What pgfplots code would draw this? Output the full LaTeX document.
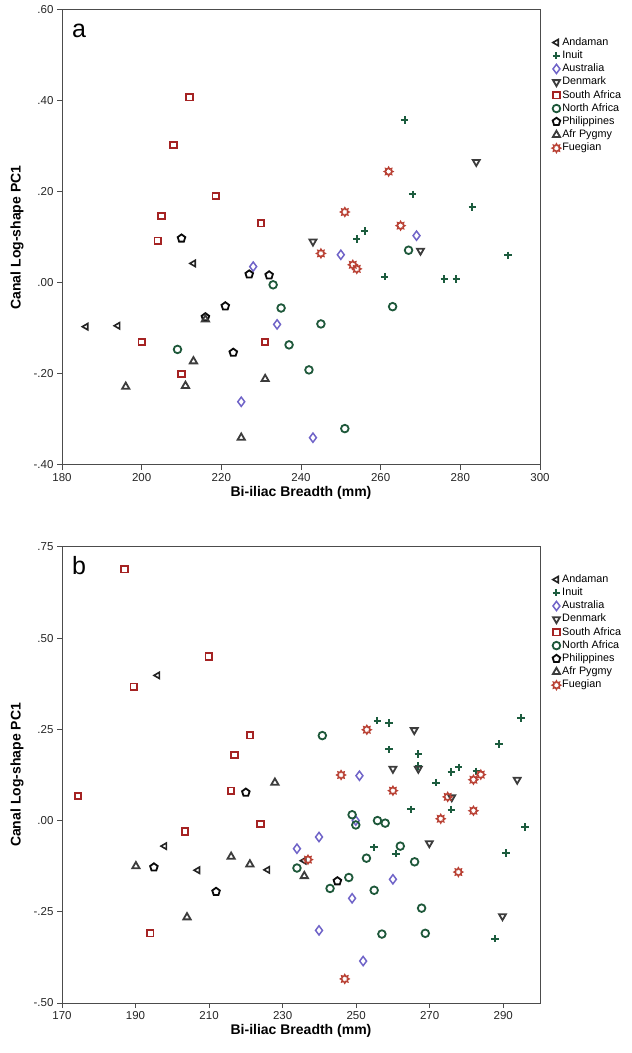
\documentclass[border=0pt]{standalone}
\usepackage{pgfplots}
\pgfplotsset{compat=1.18}
\usepackage{fontspec}
\setmainfont{Liberation Sans}
\definecolor{cAnd}{RGB}{35,35,35}
\definecolor{cInu}{RGB}{28,92,62}
\definecolor{cAus}{RGB}{112,100,200}
\definecolor{cDen}{RGB}{60,60,60}
\definecolor{cSA}{RGB}{165,35,35}
\definecolor{cNA}{RGB}{30,88,58}
\definecolor{cPhi}{RGB}{10,10,10}
\definecolor{cPyg}{RGB}{60,60,60}
\definecolor{cFue}{RGB}{185,65,52}
\pgfdeclareplotmark{sunstar}{%
  \pgfpathmoveto{\pgfpointpolar{90}{\pgfplotmarksize}}%
  \pgfpathlineto{\pgfpointpolar{112.5}{0.62\pgfplotmarksize}}%
  \pgfpathlineto{\pgfpointpolar{135}{\pgfplotmarksize}}%
  \pgfpathlineto{\pgfpointpolar{157.5}{0.62\pgfplotmarksize}}%
  \pgfpathlineto{\pgfpointpolar{180}{\pgfplotmarksize}}%
  \pgfpathlineto{\pgfpointpolar{202.5}{0.62\pgfplotmarksize}}%
  \pgfpathlineto{\pgfpointpolar{225}{\pgfplotmarksize}}%
  \pgfpathlineto{\pgfpointpolar{247.5}{0.62\pgfplotmarksize}}%
  \pgfpathlineto{\pgfpointpolar{270}{\pgfplotmarksize}}%
  \pgfpathlineto{\pgfpointpolar{292.5}{0.62\pgfplotmarksize}}%
  \pgfpathlineto{\pgfpointpolar{315}{\pgfplotmarksize}}%
  \pgfpathlineto{\pgfpointpolar{337.5}{0.62\pgfplotmarksize}}%
  \pgfpathlineto{\pgfpointpolar{0}{\pgfplotmarksize}}%
  \pgfpathlineto{\pgfpointpolar{22.5}{0.62\pgfplotmarksize}}%
  \pgfpathlineto{\pgfpointpolar{45}{\pgfplotmarksize}}%
  \pgfpathlineto{\pgfpointpolar{67.5}{0.62\pgfplotmarksize}}%
  \pgfpathclose
  \pgfusepathqstroke
}
\pgfplotsset{
  myaxis/.style={
    width=478pt, height=455pt, scale only axis,
    axis line style={color=black!70, line width=1pt},
    tick style={color=black!70, line width=1pt},
    major tick length=5pt, tick align=outside,
    xtick pos=bottom, ytick pos=left,
    minor tick num=0,
    ticklabel style={font=\fontsize{11.5}{13}\selectfont, text=black!85},
    every axis x label/.style={at={(axis description cs:0.5,-0.062)}, anchor=center, font=\bfseries\fontsize{14}{16}\selectfont},
    every axis y label/.style={at={(axis description cs:-0.094,0.5)}, rotate=90, anchor=center, font=\bfseries\fontsize{14}{16}\selectfont},
    xlabel={Bi-iliac Breadth (mm)},
    ylabel={Canal Log-shape PC1},
    legend style={draw=none, fill=none, font=\fontsize{10.8}{12}\selectfont,
      at={(1.025,0.9434)}, anchor=north west, inner sep=0pt,
      nodes={inner xsep=1.5pt, inner ysep=1.35pt, text height=8pt, text depth=2.5pt}},
    legend cell align=left,
    legend image code/.code={\draw[mark repeat=2,mark phase=2,#1] plot coordinates {(0pt,0pt) (5pt,0pt) (16pt,0pt)};},
    clip=false,
  },
  sAnd/.style={only marks, color=cAnd, mark=triangle, mark size=3.6pt, mark options={rotate=90, line width=1.6pt}},
  sInu/.style={only marks, color=cInu, mark=+, mark size=3.7pt, mark options={line width=2pt}},
  sAus/.style={only marks, color=cAus, mark=diamond, mark size=4.6pt, mark options={line width=1.5pt}},
  sDen/.style={only marks, color=cDen, mark=triangle, mark size=4pt, mark options={rotate=180, line width=1.8pt}},
  sSA/.style={only marks, color=cSA, mark=square, mark size=3.2pt, mark options={line width=1.8pt}},
  sNA/.style={only marks, color=cNA, mark=o, mark size=3.8pt, mark options={line width=1.8pt}},
  sPhi/.style={only marks, color=cPhi, mark=pentagon, mark size=4pt, mark options={line width=1.8pt}},
  sPyg/.style={only marks, color=cPyg, mark=triangle, mark size=4.2pt, mark options={line width=1.8pt}},
  sFue/.style={only marks, color=cFue, mark=sunstar, mark size=4.3pt, mark options={line width=1.4pt}},
}
\begin{document}
\begin{tikzpicture}
\path[use as bounding box] (0pt,0pt) rectangle (632pt,1053pt);
% ---------------- panel a ----------------
\begin{axis}[myaxis, at={(62pt,588pt)}, anchor=south west,
  xmin=180, xmax=300, ymin=-0.4, ymax=0.6,
  xtick={180,200,220,240,260,280,300},
  xticklabels={180,200,220,240,260,280,300},
  ytick={-0.4,-0.2,0,0.2,0.4,0.6},
  yticklabels={-.40,-.20,.00,.20,.40,.60}]
\addplot[sAnd] coordinates {(186,-0.096) (194,-0.094) (213,0.043)};
\addlegendentry{Andaman}
\addplot[sInu] coordinates {(266,0.358) (268,0.195) (283,0.167) (256,0.114) (254,0.097) (292,0.061) (261,0.014) (276,0.009) (279,0.009)};
\addlegendentry{Inuit}
\addplot[sAus] coordinates {(228,0.036) (234,-0.091) (225,-0.261) (250,0.062) (269,0.104) (243,-0.340)};
\addlegendentry{Australia}
\addplot[sDen] coordinates {(284,0.266) (243,0.091) (270,0.071)};
\addlegendentry{Denmark}
\addplot[sSA] coordinates {(212,0.408) (208,0.303) (218.6,0.191) (205,0.147) (230,0.131) (204,0.093) (200,-0.130) (231,-0.130) (210,-0.200)};
\addlegendentry{South Africa}
\addplot[sNA] coordinates {(233,-0.004) (235,-0.055) (237,-0.136) (209,-0.146) (267,0.072) (263,-0.052) (245,-0.090) (242,-0.191) (251,-0.320)};
\addlegendentry{North Africa}
\addplot[sPhi] coordinates {(210,0.098) (227,0.019) (232,0.017) (221,-0.051) (216,-0.075) (223,-0.153)};
\addlegendentry{Philippines}
\addplot[sPyg] coordinates {(216,-0.080) (213,-0.172) (231,-0.211) (196,-0.228) (211,-0.226) (225,-0.340)};
\addlegendentry{Afr Pygmy}
\addplot[sFue] coordinates {(262,0.245) (251,0.156) (265,0.126) (245,0.065) (253,0.040) (254,0.031)};
\addlegendentry{Fuegian}
\end{axis}
\node[anchor=base west, font=\fontsize{25}{28}\selectfont, inner sep=0pt] at (72pt,1015pt) {a};
% ---------------- panel b ----------------
\begin{axis}[myaxis, at={(62pt,50pt)}, anchor=south west, height=456pt,
  xmin=170, xmax=300, ymin=-0.5, ymax=0.75,
  xtick={170,190,210,230,250,270,290},
  xticklabels={170,190,210,230,250,270,290},
  ytick={-0.5,-0.25,0,0.25,0.5,0.75},
  yticklabels={-.50,-.25,.00,.25,.50,.75}]
\addplot[sAnd] coordinates {(196.0,0.398) (197.9,-0.070) (206.9,-0.136) (225.9,-0.135) (235.8,-0.110)};
\addlegendentry{Andaman}
\addplot[sInu] coordinates {(255.8,0.274) (258.9,0.268) (294.8,0.281) (258.9,0.195) (266.9,0.182) (288.8,0.210) (266.9,0.150) (275.9,0.133) (277.9,0.146) (282.7,0.135) (271.7,0.104) (264.9,0.031) (275.9,0.030) (295.9,-0.018) (254.9,-0.073) (260.8,-0.091) (290.8,-0.089) (287.8,-0.324)};
\addlegendentry{Inuit}
\addplot[sAus] coordinates {(250.9,0.123) (249.9,0.000) (239.9,-0.045) (233.9,-0.077) (260.0,-0.161) (248.9,-0.213) (239.9,-0.301) (251.9,-0.385)};
\addlegendentry{Australia}
\addplot[sDen] coordinates {(265.8,0.248) (260.0,0.142) (266.9,0.142) (293.8,0.112) (276.0,0.064) (269.9,-0.062) (289.8,-0.262)};
\addlegendentry{Denmark}
\addplot[sSA] coordinates {(187.0,0.689) (209.9,0.450) (189.5,0.367) (221.1,0.234) (216.9,0.180) (174.4,0.067) (216.0,0.082) (224.0,-0.009) (203.5,-0.030) (194.0,-0.309)};
\addlegendentry{South Africa}
\addplot[sNA] coordinates {(240.8,0.233) (248.9,0.016) (249.9,-0.012) (255.8,0.000) (257.9,-0.007) (262.0,-0.070) (252.8,-0.103) (265.9,-0.113) (233.9,-0.130) (248.0,-0.156) (242.9,-0.186) (254.9,-0.191) (267.8,-0.240) (257.0,-0.311) (268.8,-0.309)};
\addlegendentry{North Africa}
\addplot[sPhi] coordinates {(220.0,0.077) (195.0,-0.128) (211.9,-0.195) (244.9,-0.166)};
\addlegendentry{Philippines}
\addplot[sPyg] coordinates {(227.9,0.104) (190.1,-0.125) (216.0,-0.099) (221.1,-0.120) (204.0,-0.265) (235.9,-0.152)};
\addlegendentry{Afr Pygmy}
\addplot[sFue] coordinates {(252.9,0.249) (245.9,0.125) (260.0,0.082) (274.9,0.065) (281.9,0.112) (283.9,0.126) (281.9,0.027) (273.0,0.005) (236.9,-0.107) (277.8,-0.141) (246.9,-0.434)};
\addlegendentry{Fuegian}
\end{axis}
\node[anchor=base west, font=\fontsize{25}{28}\selectfont, inner sep=0pt] at (72pt,478pt) {b};
\end{tikzpicture}
\end{document}
